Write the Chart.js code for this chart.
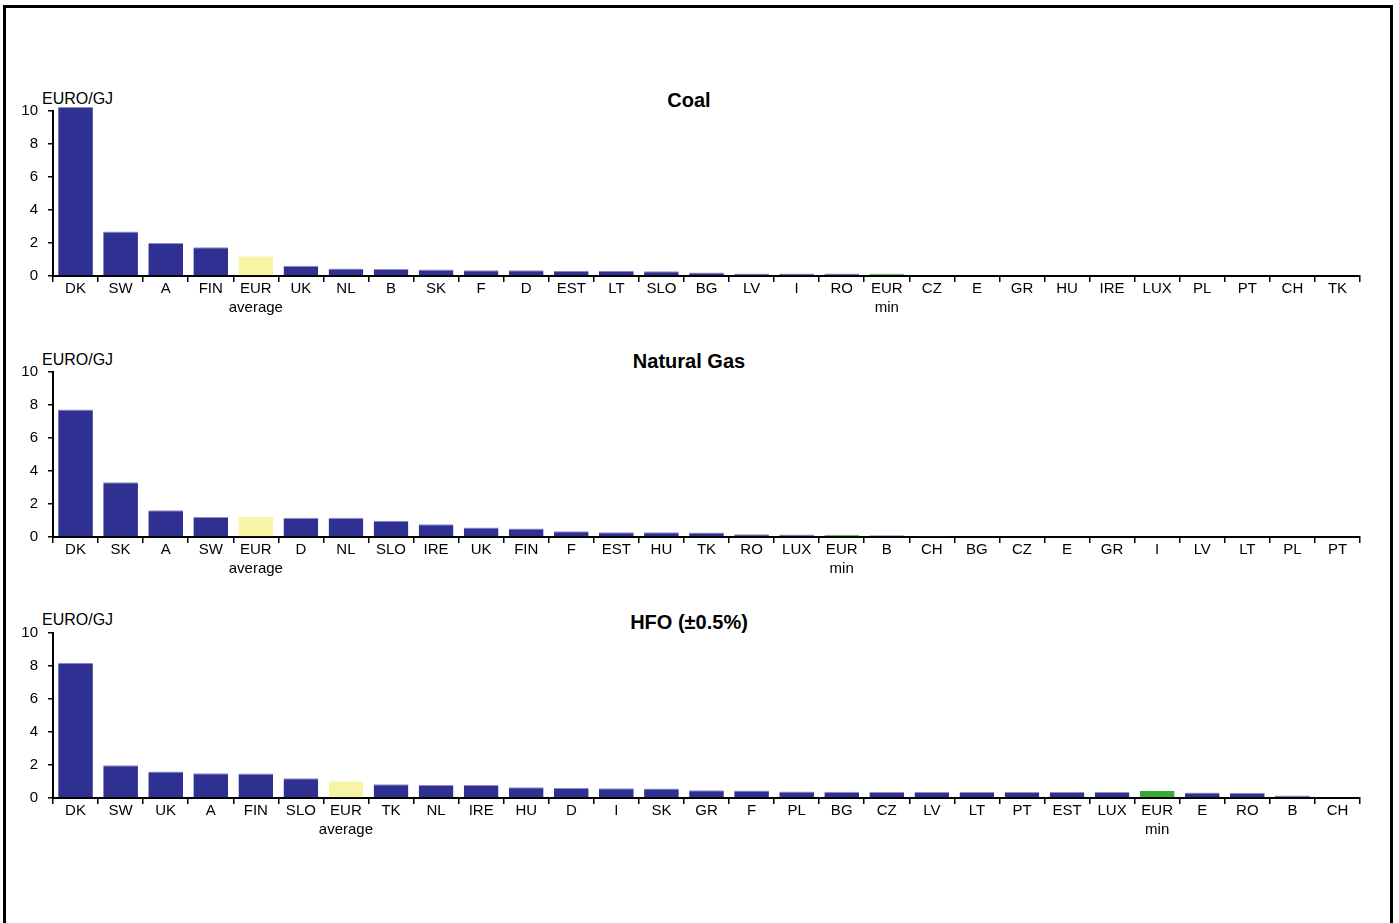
<!DOCTYPE html>
<html>
<head>
<meta charset="utf-8">
<script src="https://cdn.jsdelivr.net/npm/chart.js@4.4.1/dist/chart.umd.min.js"></script>
<style>
  html, body { margin: 0; padding: 0; background: #fff; width: 1399px; height: 923px; overflow: hidden; }
  body { position: relative; font-family: "Liberation Sans", Arial, sans-serif; }
  .frame { position: absolute; left: 3px; top: 5px; width: 1390px; height: 1000px; border: 3px solid #000; box-sizing: border-box; }
  .panel { position: absolute; left: 0; width: 1362px; height: 236px; }
  .title { position: absolute; font-weight: bold; font-size: 20px; color: #000; transform: translateX(-50%); white-space: nowrap; }
  .unit { position: absolute; font-size: 16px; color: #000; white-space: nowrap; }
</style>
</head>
<body>
<div class="frame"></div>

<div class="title" style="left:689px; top:89px;">Coal</div>
<div class="unit" style="left:42px; top:90px;">EURO/GJ</div>
<div class="panel" style="top:90px;"><canvas id="c1"></canvas></div>

<div class="title" style="left:689px; top:350px;">Natural Gas</div>
<div class="unit" style="left:42px; top:351px;">EURO/GJ</div>
<div class="panel" style="top:351px;"><canvas id="c2"></canvas></div>

<div class="title" style="left:689px; top:611px;">HFO (±0.5%)</div>
<div class="unit" style="left:42px; top:611px;">EURO/GJ</div>
<div class="panel" style="top:612px;"><canvas id="c3"></canvas></div>

<script>
// ---- Data ----
const coalCategories = ['DK','SW','A','FIN',['EUR','average'],'UK','NL','B','SK','F','D','EST','LT','SLO','BG','LV','I','RO',['EUR','min'],'CZ','E','GR','HU','IRE','LUX','PL','PT','CH','TK'];
const coalValues = [10.25,2.7,2.0,1.75,1.2,0.62,0.45,0.43,0.4,0.35,0.35,0.32,0.32,0.29,0.21,0.15,0.15,0.15,0.14,0,0,0,0,0,0,0,0,0,0];

const gasCategories = ['DK','SK','A','SW',['EUR','average'],'D','NL','SLO','IRE','UK','FIN','F','EST','HU','TK','RO','LUX',['EUR','min'],'B','CH','BG','CZ','E','GR','I','LV','LT','PL','PT'];
const gasValues = [7.73,3.32,1.62,1.21,1.21,1.17,1.17,0.99,0.77,0.57,0.51,0.35,0.29,0.29,0.27,0.17,0.15,0.13,0.11,0.03,0,0,0,0,0,0,0,0,0];

const hfoCategories = ['DK','SW','UK','A','FIN','SLO',['EUR','average'],'TK','NL','IRE','HU','D','I','SK','GR','F','PL','BG','CZ','LV','LT','PT','EST','LUX',['EUR','min'],'E','RO','B','CH'];
const hfoValues = [8.2,1.98,1.6,1.5,1.48,1.19,1.01,0.83,0.79,0.79,0.65,0.61,0.59,0.57,0.47,0.45,0.4,0.38,0.37,0.37,0.37,0.37,0.36,0.36,0.42,0.34,0.32,0.15,0];

const yTicks = [0,2,4,6,8,10];

// ---- Styles ----
const BLUE = '#2E3192';
const YELLOW = '#F7F4A6';
const GREEN = '#3AAA35';
const FONT = '"Liberation Sans", Arial, sans-serif';

function barColor(label) {
  if (Array.isArray(label) && label[1] === 'average') return YELLOW;
  if (Array.isArray(label) && label[1] === 'min') return GREEN;
  return BLUE;
}
function edgeColor(label) {
  const c = barColor(label);
  return c === BLUE ? '#8F8FCB' : c;
}

function makeChart(id, categories, values) {
  return new Chart(document.getElementById(id), {
    type: 'bar',
    data: {
      labels: categories,
      datasets: [{
        data: values,
        backgroundColor: categories.map(barColor),
        borderColor: categories.map(edgeColor),
        borderWidth: { top: 1, left: 0, right: 0, bottom: 0 },
        borderSkipped: 'bottom',
        barPercentage: 0.77,
        categoryPercentage: 1.0,
        clip: false
      }]
    },
    options: {
      responsive: true,
      maintainAspectRatio: false,
      animation: false,
      events: [],
      layout: { padding: { top: 21, right: 2, bottom: 0, left: 0 } },
      plugins: { legend: { display: false }, title: { display: false }, tooltip: { enabled: false } },
      scales: {
        x: {
          offset: true,
          border: { display: true, color: '#000', width: 2 },
          grid: { display: true, offset: true, drawOnChartArea: false, drawTicks: true, tickLength: 6, color: '#000', lineWidth: 1.5 },
          ticks: { color: '#000', font: { family: FONT, size: 15, lineHeight: 1.27 }, padding: -3, maxRotation: 0, minRotation: 0, autoSkip: false },
          afterFit: (s) => { s.height = 50; }
        },
        y: {
          min: 0, max: 10,
          border: { display: true, color: '#000', width: 2 },
          grid: { display: true, drawOnChartArea: false, drawTicks: true, tickLength: 5, color: '#000', lineWidth: 1.5 },
          afterBuildTicks: (s) => { s.ticks = yTicks.map(v => ({ value: v })); },
          ticks: { color: '#000', font: { family: FONT, size: 15 }, padding: 10 },
          afterFit: (s) => { s.width = 53; }
        }
      }
    }
  });
}

makeChart('c1', coalCategories, coalValues);
makeChart('c2', gasCategories, gasValues);
makeChart('c3', hfoCategories, hfoValues);
</script>
</body>
</html>
